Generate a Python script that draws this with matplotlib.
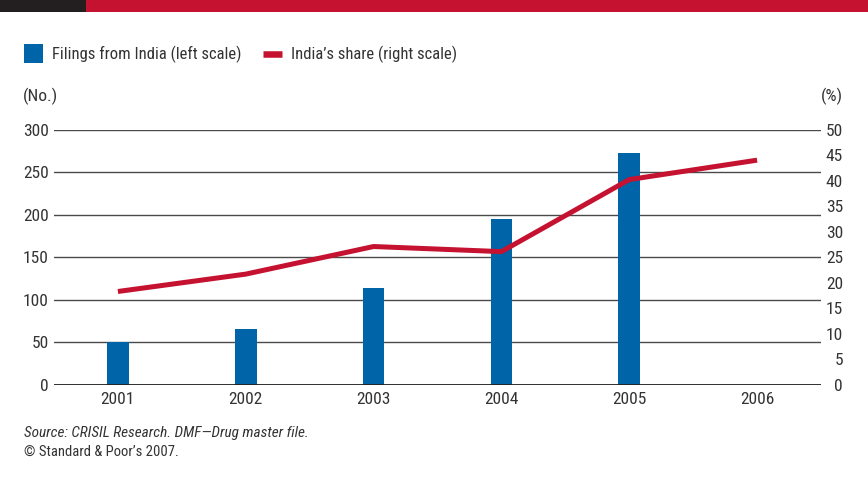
import matplotlib
matplotlib.use('Agg')
import matplotlib.pyplot as plt
from matplotlib.patches import Rectangle
from matplotlib.lines import Line2D
import numpy as np

plt.rcParams['font.family'] = ['Roboto Condensed', 'DejaVu Sans']

# DMF filings from India and India's share of all filings
years = ['2001', '2002', '2003', '2004', '2005', '2006']
filings = [50, 66, 114, 195, 272, np.nan]
share = [18.3, 21.7, 27.1, 26.1, 40.2, 44.0]

blue = '#0064a8'
red = '#c41230'
dark = '#231f20'
grey = '#333333'
fs = 12.5

fig = plt.figure(figsize=(8.68, 4.87), dpi=100)
W, H = 868.0, 487.0

# header strip
fig.add_artist(Rectangle((0, 1 - 12 / H), 86 / W, 12 / H, transform=fig.transFigure,
                         color=dark, lw=0))
fig.add_artist(Rectangle((86 / W, 1 - 12 / H), 1 - 86 / W, 12 / H, transform=fig.transFigure,
                         color=red, lw=0))

ax = fig.add_axes([54 / W, (H - 385) / H, (821 - 54) / W, 255.5 / H])
x = np.arange(len(years))

for v in range(0, 301, 50):
    ax.axhline(v, color='#4a4a4a', lw=1.0, zorder=0)
ax.axhline(0, color=dark, lw=2.0, zorder=3)

ax.bar(x, filings, width=0.17, color=blue, zorder=2)
ax.set_xlim(-0.5, 5.5)
ax.set_ylim(0, 300)
ax.set_yticks(range(0, 301, 50))
ax.set_xticks(x)
ax.set_xticklabels(years)
ax.tick_params(axis='y', length=0, pad=3.6, labelsize=fs, labelcolor=grey)
ax.tick_params(axis='x', length=0, pad=5, labelsize=fs, labelcolor=grey)
for s in ax.spines.values():
    s.set_visible(False)

ax2 = ax.twinx()
ax2.plot(x, share, color=red, lw=3.6, solid_capstyle='butt', zorder=4)
ax2.set_ylim(0, 50)
ax2.set_yticks(range(0, 51, 5))
ax2.tick_params(axis='y', length=0, pad=15.8, labelsize=fs, labelcolor=grey)
for lab in ax2.get_yticklabels():
    lab.set_horizontalalignment('right')
for s in ax2.spines.values():
    s.set_visible(False)

fig.text(23 / W, 1 - 96 / H, '(No.)', fontsize=fs, color=grey, va='center', ha='left')
fig.text(843 / W, 1 - 96 / H, '(%)', fontsize=fs, color=grey, va='center', ha='right')

# legend
fig.add_artist(Rectangle((24 / W, 1 - 63 / H), 19 / W, 19 / H, transform=fig.transFigure,
                         color=blue, lw=0))
fig.text(52 / W, 1 - 54 / H, 'Filings from India (left scale)', fontsize=12, color=grey,
         va='center', ha='left')
fig.add_artist(Line2D([263 / W, 282 / W], [1 - 54 / H, 1 - 54 / H], transform=fig.transFigure,
                      color=red, lw=4.7, solid_capstyle='butt'))
fig.text(291 / W, 1 - 54 / H, 'India\u2019s share (right scale)', fontsize=12, color=grey,
         va='center', ha='left')

fig.text(24 / W, 1 - 433 / H, 'Source: CRISIL Research. DMF\u2014Drug master file.', fontsize=11,
         color=grey, style='italic', va='center', ha='left')
fig.text(24 / W, 1 - 452 / H, '\u00a9 Standard & Poor\u2019s 2007.', fontsize=10.5, color=grey,
         va='center', ha='left')

fig.savefig('out.png', dpi=100)
